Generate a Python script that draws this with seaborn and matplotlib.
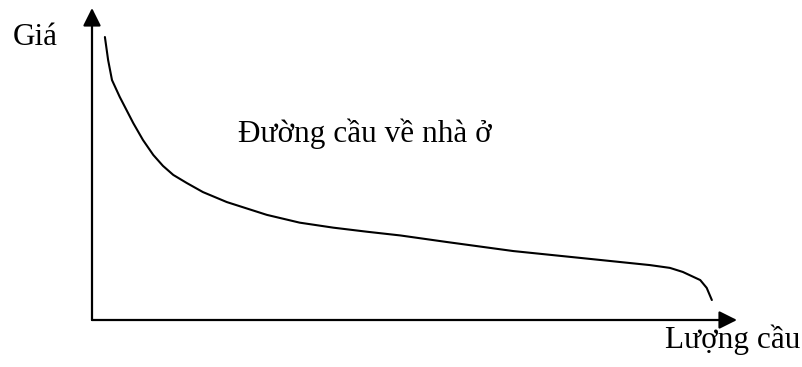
import pandas as pd
import matplotlib
matplotlib.use("Agg")
import matplotlib.pyplot as plt
import seaborn as sns

# demand curve for housing (arbitrary units, 0-100)
quantity = [2.0, 2.5, 3.1, 4.3, 6.4, 7.9, 9.5, 11.0, 12.6, 14.7, 17.2, 20.9,
            27.1, 32.2, 37.4, 42.6, 47.8, 55.0, 65.3, 75.7, 86.5, 89.6, 91.6,
            94.3, 95.3, 96.1]
price = [90.7, 83.3, 76.9, 71.5, 63.1, 57.7, 52.9, 49.4, 46.5, 43.9, 41.0, 37.8,
         33.7, 31.2, 29.6, 28.3, 27.1, 25.0, 22.1, 19.9, 17.6, 16.7, 15.4,
         12.8, 10.3, 6.4]

title_text = "Đường cầu về nhà ở"
y_label = "Giá"
x_label = "Lượng cầu"

df = pd.DataFrame({"q": quantity, "p": price})

sns.set_style("white")
plt.rcParams["font.family"] = ["Liberation Serif", "DejaVu Serif"]

fig = plt.figure(figsize=(8.03, 3.67), dpi=100)
ax = fig.add_axes([92 / 803, 47 / 367, 645 / 803, 312 / 367])

sns.lineplot(data=df, x="q", y="p", sort=False, color="black", linewidth=1.5, ax=ax)
ax.lines[0].set_solid_joinstyle("round")

ax.set_xlim(0, 100)
ax.set_ylim(0, 100)
ax.set_xlabel("")
ax.set_ylabel("")
ax.set_xticks([])
ax.set_yticks([])
for s in ax.spines.values():
    s.set_visible(False)

arrow = dict(arrowstyle="-|>,head_length=1.08,head_width=0.54", mutation_scale=10,
             color="black", lw=1.6, shrinkA=0, shrinkB=0)
ax.annotate("", xy=(0, 1), xytext=(0, 0), xycoords="axes fraction", arrowprops=arrow)
ax.annotate("", xy=(1, 0), xytext=(0, 0), xycoords="axes fraction", arrowprops=arrow)

ax.text(22.6, 57.1, title_text, fontsize=22.5, color="black", va="baseline", ha="left")
fig.text(13 / 803, (367 - 45) / 367, y_label, fontsize=22.5, color="black",
         va="baseline", ha="left")
fig.text(665 / 803, (367 - 348) / 367, x_label, fontsize=22.5, color="black",
         va="baseline", ha="left")

fig.savefig("out.png", dpi=100)
